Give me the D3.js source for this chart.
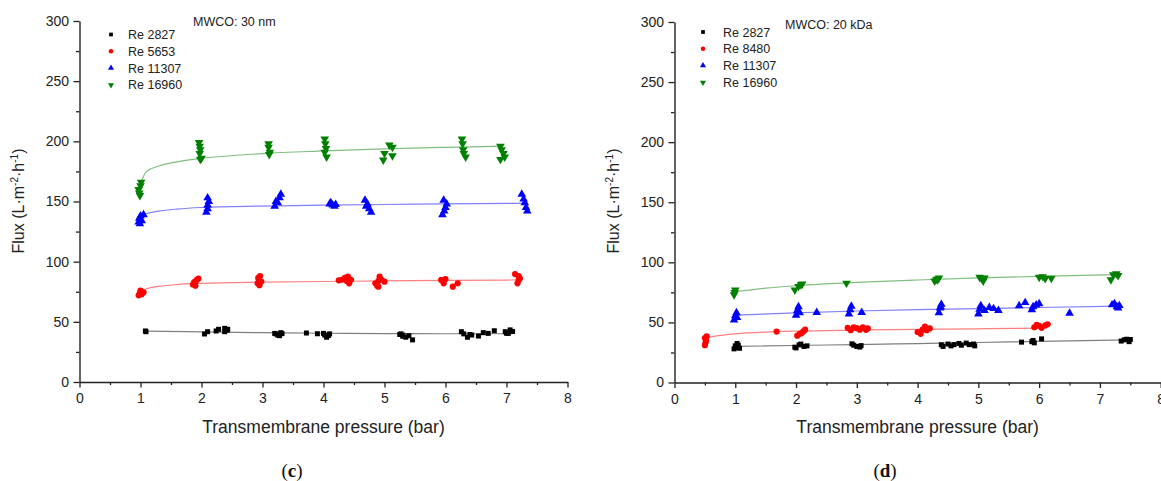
<!DOCTYPE html>
<html><head><meta charset="utf-8">
<script src="https://cdn.jsdelivr.net/npm/d3@7/dist/d3.min.js"></script>
<style>body{margin:0;background:#fff}svg{display:block;font-family:"Liberation Sans",Arial,sans-serif}</style>
</head><body><svg id="c" width="1161" height="481"></svg>
<script>
// ---------- DATA ----------
const xTicks=[0,1,2,3,4,5,6,7,8];
const yTicks=[0,50,100,150,200,250,300];
const seriesColors=["#000000","#ff0000","#0000ff","#008000"];
const seriesShapes=["square","circle","up","down"];
const legendC=["Re 2827","Re 5653","Re 11307","Re 16960"];
const legendD=["Re 2827","Re 8480","Re 11307","Re 16960"];
const titleC="MWCO: 30 nm", titleD="MWCO: 20 kDa";

// panel (c) points
const blackC_x=[1.08,1.09,2.05,2.1,2.24,2.28,2.38,2.43,2.38,2.42,3.2,3.25,3.28,3.3,3.22,3.32,3.72,3.9,4.0,4.02,4.05,4.08,4.1,5.25,5.3,5.35,5.3,5.4,5.46,5.27,6.26,6.3,6.36,6.4,6.43,6.54,6.62,6.7,6.8,6.98,7.0,7.03,7.06,7.1];
const blackC_y=[42.4,41.8,39.9,41.8,42.4,43.8,44.6,43.8,41.8,43,40.4,39,38.5,41,40,40.2,40.7,40.1,40.4,39,37.2,38.5,40,39.5,39,37.2,38,38.5,35,40,41.8,40,37.2,39.5,39,38.2,41,40.4,42.6,41.8,40.5,40.4,43.3,42];
const redC_x=[0.97,0.99,1.0,1.02,1.05,1.86,1.88,1.9,1.92,1.9,1.95,2.92,2.94,2.96,2.95,2.98,2.93,4.25,4.3,4.35,4.4,4.42,4.38,4.45,4.85,4.88,4.9,4.92,4.95,5.0,4.9,5.93,5.97,6.0,6.12,6.2,7.14,7.2,7.18,7.2,7.22];
const redC_y=[72,74,76,73,74.5,81,83,80,85,82.5,86,82,85,88,80.5,83.5,86.5,84.5,85,86.5,87.6,82,84,85,82,80,79.2,87.6,85,83.4,84,84.8,82,85.5,79.2,82,89.7,88,82,84.8,86];
const blueC_x=[0.97,0.98,1.0,1.02,1.05,0.99,2.08,2.1,2.1,2.12,2.1,3.2,3.25,3.28,3.3,3.22,4.1,4.15,4.2,4.18,4.12,4.68,4.72,4.75,4.78,4.7,5.95,5.98,6.0,6.02,5.97,7.25,7.28,7.3,7.32,7.34];
const blueC_y=[133,136,138,134,139,131.5,141,144,147,150,153,146,149,153,156,150,148,147,147.5,146,149,151,148,144,141,146,139,142,145,148,151,156,152,149,145,142];
const greenC_x=[0.97,0.98,1.0,1.01,0.99,1.96,1.97,1.98,1.97,2.0,1.98,3.1,3.1,3.12,3.11,4.02,4.03,4.04,4.02,4.05,5.08,5.13,5.0,4.98,5.13,6.27,6.28,6.29,6.3,6.33,6.9,6.92,6.95,6.97,6.9];
const greenC_y=[160,157,163,166,155,199,196,193,190,186,185,198,195,191,189,202,198,194,191,187,197,195,190,184.5,188,202,198,193,190,187,196,193,190,187,185];
// panel (c) fitted curves
const fitBlackC_x=[1.08,2,3,4,5,6,7.1], fitBlackC_y=[42.3,41.6,41,40.5,40.2,40.1,40.1];
const fitRedC_x=[0.98,1.1,1.3,1.6,2,3,4,5,6,7.2], fitRedC_y=[75,77.5,79.5,81,82,83,83.5,84,84.4,84.8];
const fitBlueC_x=[0.98,1.1,1.3,1.6,2,3,4,5,6,7.3], fitBlueC_y=[137,140,142,143.7,145,146.2,147,147.5,148,148.5];
const fitGreenC_x=[1.01,1.05,1.1,1.3,1.6,2,3,4,5,6,6.95], fitGreenC_y=[165,171,175,179.5,183,185.8,189.8,192,193.8,195,196];

// panel (d) points
const blackD_x=[0.98,1.0,1.02,1.05,1.03,1.07,1.98,2.0,2.05,2.08,2.13,2.18,2.92,2.95,3.0,3.05,3.07,4.39,4.42,4.5,4.55,4.6,4.68,4.72,4.8,4.85,4.92,4.94,5.71,5.88,5.9,5.92,6.04,7.35,7.4,7.44,7.48,7.5];
const blackD_y=[28,30.5,29,31,32.5,28.5,29.4,28.8,31.3,32,30,30.5,32.2,31,30,29.5,30.7,31.4,30,32,30.5,31.5,32.5,31,32.8,31.5,32,30.5,33.6,34,35,33,36.3,34.5,35.5,36,34,35.8];
const redD_x=[0.5,0.51,0.52,0.5,0.53,1.68,2.02,2.06,2.09,2.12,2.15,2.85,2.9,2.95,3.0,3.05,3.1,3.15,3.18,4.0,4.05,4.08,4.12,4.15,4.2,5.92,5.96,6.0,6.04,6.1,6.14];
const redD_y=[31,33,35,37,38.5,42.4,39,40.5,41,42.5,44,45.5,43.5,46,45.2,44,46,43.8,45,42,40.5,44,46.5,43.5,45,46,48,47.2,45.5,47.5,48.5];
const blueD_x=[0.98,1.0,1.02,1.03,2.0,2.02,2.04,2.06,2.34,2.87,2.89,2.91,3.08,4.35,4.37,4.39,4.38,5.0,5.02,5.04,5.1,5.18,5.25,5.33,5.67,5.77,5.88,5.9,5.95,6.0,6.5,7.2,7.24,7.28,7.3,7.32];
const blueD_y=[52,55.5,58,54,56,59.9,63,58,58.2,57,60.5,63.5,58.2,58,61.9,65,63,57,61,64,60,62.5,61.5,60,63.8,66.5,60.5,63,64.5,65.5,57.7,64.6,65.5,63,61.9,64];
const greenD_x=[0.98,0.99,1.0,1.98,2.04,2.08,2.1,2.83,4.28,4.31,4.35,4.33,5.02,5.05,5.08,5.1,6.0,6.06,6.1,6.2,7.18,7.22,7.27,7.3];
const greenD_y=[73,75,77,77,80,81.3,82,82.7,84.5,86,87,85.5,87.5,86.8,84.5,87,87.5,88.1,86.5,86.8,85.5,89.6,90.5,89];
// panel (d) fitted curves
const fitBlackD_x=[1,2,3,4,5,6,7.45], fitBlackD_y=[30,30.8,31.6,32.4,33.3,34.2,35.5];
const fitRedD_x=[0.5,0.6,0.8,1,1.5,2,3,4,5,6.1], fitRedD_y=[36.5,38,39.5,40.5,42,42.8,43.6,44.2,44.7,45.2];
const fitBlueD_x=[1,2,3,4,5,6,7.3], fitBlueD_y=[56,58,59.5,60.6,61.5,62.4,63.5];
const fitGreenD_x=[1,1.5,2,3,4,5,6,7.25], fitGreenD_y=[75.5,78.5,80.5,83.3,85.3,87,88.3,89.8];

// ---------- DRAW ----------
const svg=d3.select("#c");
const zip=(xs,ys)=>xs.map((x,i)=>[x,ys[i]]);
const SANS="'Liberation Sans',Arial,sans-serif";

function marker(sel,shape,color,size){
  if(shape==="square") sel.attr("d",d3.symbol(d3.symbolSquare,size));
  else if(shape==="circle") sel.attr("d",d3.symbol(d3.symbolCircle,size));
  else sel.attr("d",d3.symbol(d3.symbolTriangle,size));
  sel.attr("fill",color);
  return sel;
}

function panel(o){
  const x=d3.scaleLinear().domain([0,8]).range([o.x0,o.x1]);
  const y=d3.scaleLinear().domain([0,300]).range([o.y0,o.y1]);
  const g=svg.append("g");
  // minor ticks
  const xa=g.append("g").attr("transform",`translate(0,${o.y0})`)
    .call(d3.axisBottom(x).tickValues(d3.range(0.5,8,1)).tickSize(3).tickFormat("").tickSizeOuter(0));
  xa.select(".domain").remove();
  const ya=g.append("g").attr("transform",`translate(${o.x0},0)`)
    .call(d3.axisLeft(y).tickValues(d3.range(25,300,50)).tickSize(3.5).tickFormat("").tickSizeOuter(0));
  ya.select(".domain").remove();
  // major
  g.append("g").attr("transform",`translate(0,${o.y0})`)
    .call(d3.axisBottom(x).tickValues(xTicks).tickSize(5.5).tickPadding(6).tickSizeOuter(0));
  g.append("g").attr("transform",`translate(${o.x0},0)`)
    .call(d3.axisLeft(y).tickValues(yTicks).tickSize(6).tickPadding(4.5).tickSizeOuter(0));
  g.selectAll(".tick line").attr("stroke","#222").attr("stroke-width",1.3);
  g.selectAll(".domain").attr("stroke","#222").attr("stroke-width",1.4);
  g.selectAll(".tick text").attr("fill","#222").style("font-size","14px").style("font-family",SANS);

  // fits
  const line=d3.line().x(d=>x(d[0])).y(d=>y(d[1])).curve(d3.curveMonotoneX);
  o.fits.forEach((f,i)=>{
    g.append("path").datum(zip(f[0],f[1])).attr("d",line)
     .attr("fill","none").attr("stroke",seriesColors[i]).attr("stroke-opacity",0.5).attr("stroke-width",1.2);
  });
  // points
  o.pts.forEach((p,i)=>{
    const shape=seriesShapes[i];
    g.append("g").selectAll("path").data(zip(p[0],p[1])).join("path")
      .each(function(){marker(d3.select(this),shape,seriesColors[i],shape==="square"?25:(shape==="circle"?30:32));})
      .attr("transform",d=>`translate(${x(d[0])},${y(d[1])})${shape==="down"?" rotate(180)":""}`);
  });
  // legend
  o.legend.forEach((t,i)=>{
    const ly=o.ly0+i*16.8;
    const shape=seriesShapes[i];
    marker(g.append("path"),shape,seriesColors[i],shape==="square"?14:16)
      .attr("transform",`translate(${o.lx},${ly})${shape==="down"?" rotate(180)":""}`);
    g.append("text").attr("x",o.lx+o.lgap).attr("y",ly+4.5).style("font-size","12.5px").attr("fill","#222").text(t);
  });
  g.append("text").attr("x",o.tx).attr("y",o.ty).style("font-size","12.5px").attr("fill","#222").text(o.title);
  // axis labels
  g.append("text").attr("x",x(4)).attr("y",433).attr("text-anchor","middle").style("font-size","17.5px").attr("fill","#222")
    .text("Transmembrane pressure (bar)");
  const yl=g.append("text").attr("transform",`translate(${o.x0-56},201) rotate(-90)`).attr("text-anchor","middle")
    .style("font-size","16px").attr("fill","#222");
  yl.append("tspan").text("Flux (L·m");
  yl.append("tspan").attr("dy",-6).style("font-size","10px").text("-2");
  yl.append("tspan").attr("dy",6).text("·h");
  yl.append("tspan").attr("dy",-6).style("font-size","10px").text("-1");
  yl.append("tspan").attr("dy",6).text(")");
  // panel tag
  const tg=g.append("text").attr("x",o.tagx).attr("y",477).attr("text-anchor","middle")
    .style("font-family","'Liberation Serif','Times New Roman',serif").style("font-size","19px").attr("fill","#111");
  tg.append("tspan").text("(");
  tg.append("tspan").style("font-weight","bold").text(o.tag);
  tg.append("tspan").text(")");
}

panel({x0:79.5,x1:567.5,y0:382,y1:21,
  fits:[[fitBlackC_x,fitBlackC_y],[fitRedC_x,fitRedC_y],[fitBlueC_x,fitBlueC_y],[fitGreenC_x,fitGreenC_y]],
  pts:[[blackC_x,blackC_y],[redC_x,redC_y],[blueC_x,blueC_y],[greenC_x,greenC_y]],
  legend:legendC,lx:111,ly0:34.5,lgap:17,title:titleC,tx:193,ty:26,tag:"c",tagx:292});
panel({x0:674.5,x1:1160.7,y0:382.5,y1:22,
  fits:[[fitBlackD_x,fitBlackD_y],[fitRedD_x,fitRedD_y],[fitBlueD_x,fitBlueD_y],[fitGreenD_x,fitGreenD_y]],
  pts:[[blackD_x,blackD_y],[redD_x,redD_y],[blueD_x,blueD_y],[greenD_x,greenD_y]],
  legend:legendD,lx:703,ly0:32,lgap:20,title:titleD,tx:785,ty:29,tag:"d",tagx:885});
</script></body></html>
